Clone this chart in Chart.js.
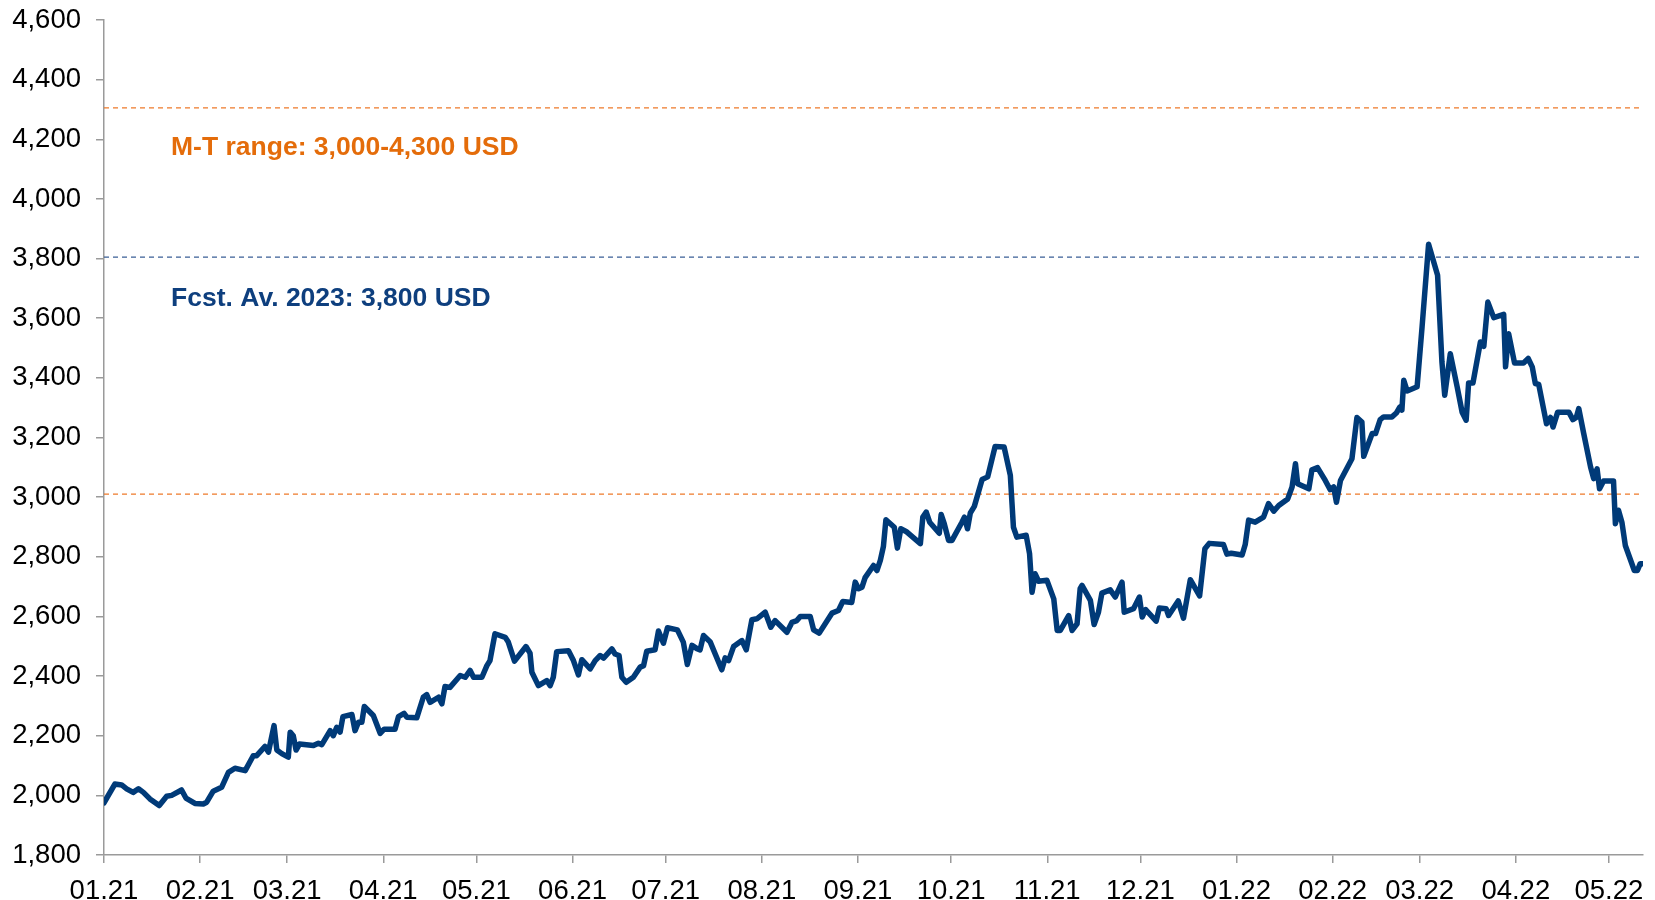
<!DOCTYPE html>
<html>
<head>
<meta charset="utf-8">
<script src="https://cdn.jsdelivr.net/npm/chart.js@4.4.0/dist/chart.umd.min.js"></script>
<style>
  html, body { margin: 0; padding: 0; background: #ffffff; }
  #wrap { width: 1655px; height: 900px; }
</style>
</head>
<body>
<div id="wrap"><canvas id="c" width="1655" height="900"></canvas></div>
<script>
// ---- Data (day offsets counted from 1 Jan 2021) ----
const days = [
  0,3.5,5.7,7.3,9.4,11.1,12.7,14.8,17.8,20.2,21.8,25.0,26.4,29.3,32.0,33.1,35.2,37.9,40.1,42.2,
  45.5,48.1,49.2,51.9,53.0,54.8,55.7,57.3,59.4,60.0,61.0,61.9,63.0,67.5,69.1,70.2,72.9,73.9,75.0,76.1,
  77.0,79.9,80.9,82.0,83.1,83.9,86.8,89.0,90.3,93.8,94.9,96.7,97.6,100.8,102.9,104.0,105.1,107.8,108.9,109.9,
  111.5,114.8,116.4,118.0,119.1,121.8,123.4,124.4,126.0,129.3,130.3,132.3,136.0,137.3,137.9,140.0,142.7,143.8,144.8,145.9,
  149.7,151.3,152.9,154.0,156.7,158.3,159.9,161.0,163.7,164.7,166.0,166.9,168.3,170.6,172.8,173.9,174.9,177.6,178.7,180.3,
  181.6,184.8,186.7,188.0,189.5,191.1,192.1,193.2,195.4,199.1,200.2,201.3,202.9,205.6,207.0,208.8,210.4,213.1,214.9,216.3,
  220.1,221.7,223.3,224.4,227.6,228.7,230.5,234.6,236.7,238.1,241.0,242.1,243.2,244.3,245.3,248.0,249.1,250.2,251.2,252.0,
  254.7,255.7,256.8,258.5,263.1,263.9,265.0,266.1,269.2,269.8,270.8,272.2,273.3,276.5,277.3,278.3,279.2,280.5,283.0,284.8,
  287.2,290.1,292.1,293.1,294.2,297.2,298.3,299.1,300.1,301.2,303.9,306.1,307.2,308.2,310.9,312.0,313.6,314.6,315.2,317.9,
  319.1,320.5,321.6,324.3,325.9,328.1,328.8,331.8,333.7,334.6,335.7,339.1,340.1,342.3,343.1,346.2,347.9,350.1,353.1,354.8,
  356.2,360.8,361.9,363.3,366.8,367.8,368.9,371.0,373.7,375.3,377.0,378.6,381.5,382.9,384.0,384.7,388.3,389.3,391.1,393.6,
  395.2,396.3,397.2,398.5,402.2,403.8,405.4,406.0,408.7,409.8,411.3,412.4,415.1,416.5,417.6,418.3,418.9,420.0,423.2,424.8,
  426.9,429.8,431.2,432.1,433.9,436.1,437.7,439.0,439.8,441.2,443.6,444.7,446.0,447.9,451.1,451.7,452.7,454.6,457.5,459.0,
  460.3,461.3,462.4,464.9,466.2,467.0,468.5,472.1,473.4,474.5,475.3,476.9,479.1,480.1,481.2,482.0,483.3,486.5,487.1,488.1,
  489.2,490.3,493.2,494.2,495.1,496.0
];
const prices = [
  1975,2038,2035,2022,2010,2022,2010,1988,1966,1997,2000,2018,1991,1973,1971,1977,2014,2027,2077,2091,
  2083,2133,2133,2164,2145,2234,2152,2140,2128,2212,2200,2152,2172,2167,2175,2170,2217,2200,2228,2212,
  2264,2271,2217,2245,2245,2298,2268,2208,2222,2222,2264,2275,2262,2260,2329,2338,2312,2329,2307,2365,
  2362,2402,2396,2419,2396,2396,2435,2452,2542,2530,2514,2450,2499,2477,2413,2368,2385,2368,2396,2482,
  2485,2452,2404,2455,2424,2452,2469,2460,2491,2474,2469,2396,2379,2396,2430,2435,2483,2488,2551,2510,
  2562,2555,2514,2439,2503,2492,2488,2536,2514,2421,2461,2452,2499,2519,2488,2589,2592,2614,2564,2586,
  2547,2580,2586,2600,2600,2555,2544,2611,2620,2650,2647,2715,2693,2698,2730,2771,2754,2788,2835,2924,
  2899,2829,2894,2885,2844,2933,2950,2916,2879,2942,2911,2855,2855,2916,2933,2894,2947,2969,3059,3068,
  3170,3168,3073,2899,2866,2872,2810,2681,2743,2718,2721,2659,2553,2553,2603,2553,2575,2693,2704,2654,
  2573,2614,2678,2689,2665,2715,2614,2626,2665,2598,2623,2584,2628,2626,2603,2652,2594,2723,2669,2827,
  2845,2841,2809,2812,2806,2841,2923,2916,2933,2978,2953,2972,2994,3034,3112,3045,3028,3092,3099,3056,
  3025,3034,2983,3056,3129,3267,3252,3137,3213,3213,3260,3269,3269,3282,3302,3292,3392,3356,3370,3571,
  3848,3744,3453,3342,3481,3370,3285,3258,3383,3383,3520,3506,3654,3602,3613,3437,3548,3450,3450,3465,
  3437,3381,3378,3246,3267,3235,3285,3285,3260,3267,3297,3213,3101,3062,3095,3028,3054,3054,2911,2956,
  2916,2838,2754,2754,2777,2777
];
const tickLabels = ["01.21","02.21","03.21","04.21","05.21","06.21","07.21","08.21","09.21","10.21","11.21","12.21","01.22","02.22","03.22","04.22","05.22"];
const tickDays   = [0,31,59,90,120,151,181,212,243,273,304,334,365,396,424,455,485];
const rangeLow  = 3010;
const rangeHigh = 4305;
const forecast  = 3805;
const labelRange = "M-T range: 3,000-4,300 USD";
const labelFcst  = "Fcst. Av. 2023: 3,800 USD";

// ---- Layout / style ----
const X_MAX = 496;
const FONT = "'Liberation Sans', Arial, sans-serif";
const AXIS_GREY = '#9a9a9a';

const series = days.map((d, i) => ({ x: d, y: prices[i] }));
const hline = v => [{ x: 0, y: v }, { x: X_MAX, y: v }];

const textPlugin = {
  id: 'refText',
  afterDatasetsDraw(chart) {
    const { ctx, scales: { x, y } } = chart;
    ctx.save();
    ctx.font = 'bold 26.5px ' + FONT;
    ctx.textAlign = 'left';
    ctx.textBaseline = 'middle';
    ctx.fillStyle = '#E46C0A';
    ctx.fillText(labelRange, x.getPixelForValue(21.6), y.getPixelForValue(4171));
    ctx.fillStyle = '#0E3F7E';
    ctx.fillText(labelFcst, x.getPixelForValue(21.6), y.getPixelForValue(3665));
    ctx.restore();
  }
};

new Chart(document.getElementById('c'), {
  type: 'line',
  data: {
    datasets: [
      { data: series, borderColor: '#003A78', borderWidth: 5.5, pointRadius: 0, tension: 0,
        borderJoinStyle: 'round', borderCapStyle: 'round', fill: false },
      { data: hline(forecast), borderColor: '#3A5F96', borderWidth: 1.3, borderDash: [5, 4], pointRadius: 0 },
      { data: hline(rangeHigh), borderColor: '#EE7A2A', borderWidth: 1.3, borderDash: [5, 4], pointRadius: 0 },
      { data: hline(rangeLow), borderColor: '#EE7A2A', borderWidth: 1.3, borderDash: [5, 4], pointRadius: 0 }
    ]
  },
  options: {
    responsive: false,
    animation: false,
    devicePixelRatio: 1,
    layout: { padding: { top: 20, right: 12, left: 0, bottom: 0 } },
    plugins: { legend: { display: false }, tooltip: { enabled: false } },
    scales: {
      x: {
        type: 'linear', min: 0, max: X_MAX,
        afterBuildTicks: s => { s.ticks = tickDays.map(v => ({ value: v })); },
        afterFit: s => { s.height = 45; s.paddingLeft = 0; s.paddingRight = 0; },
        ticks: {
          autoSkip: false, maxRotation: 0, minRotation: 0, padding: 12,
          color: '#000', font: { family: FONT, size: 27.5 },
          callback: (v, i) => tickLabels[i]
        },
        grid: { drawOnChartArea: false, drawTicks: true, tickLength: 8, color: AXIS_GREY, lineWidth: 1.5 },
        border: { display: true, color: AXIS_GREY, width: 1.5 }
      },
      y: {
        min: 1800, max: 4600,
        afterFit: s => { s.width = 104; s.paddingTop = 0; s.paddingBottom = 0; },
        ticks: {
          stepSize: 200, padding: 15, color: '#000', font: { family: FONT, size: 27.5 },
          callback: v => v.toLocaleString('en-US')
        },
        grid: { drawOnChartArea: false, drawTicks: true, tickLength: 8, color: AXIS_GREY, lineWidth: 1.5 },
        border: { display: true, color: AXIS_GREY, width: 1.5 }
      }
    }
  },
  plugins: [textPlugin]
});
</script>
</body>
</html>
